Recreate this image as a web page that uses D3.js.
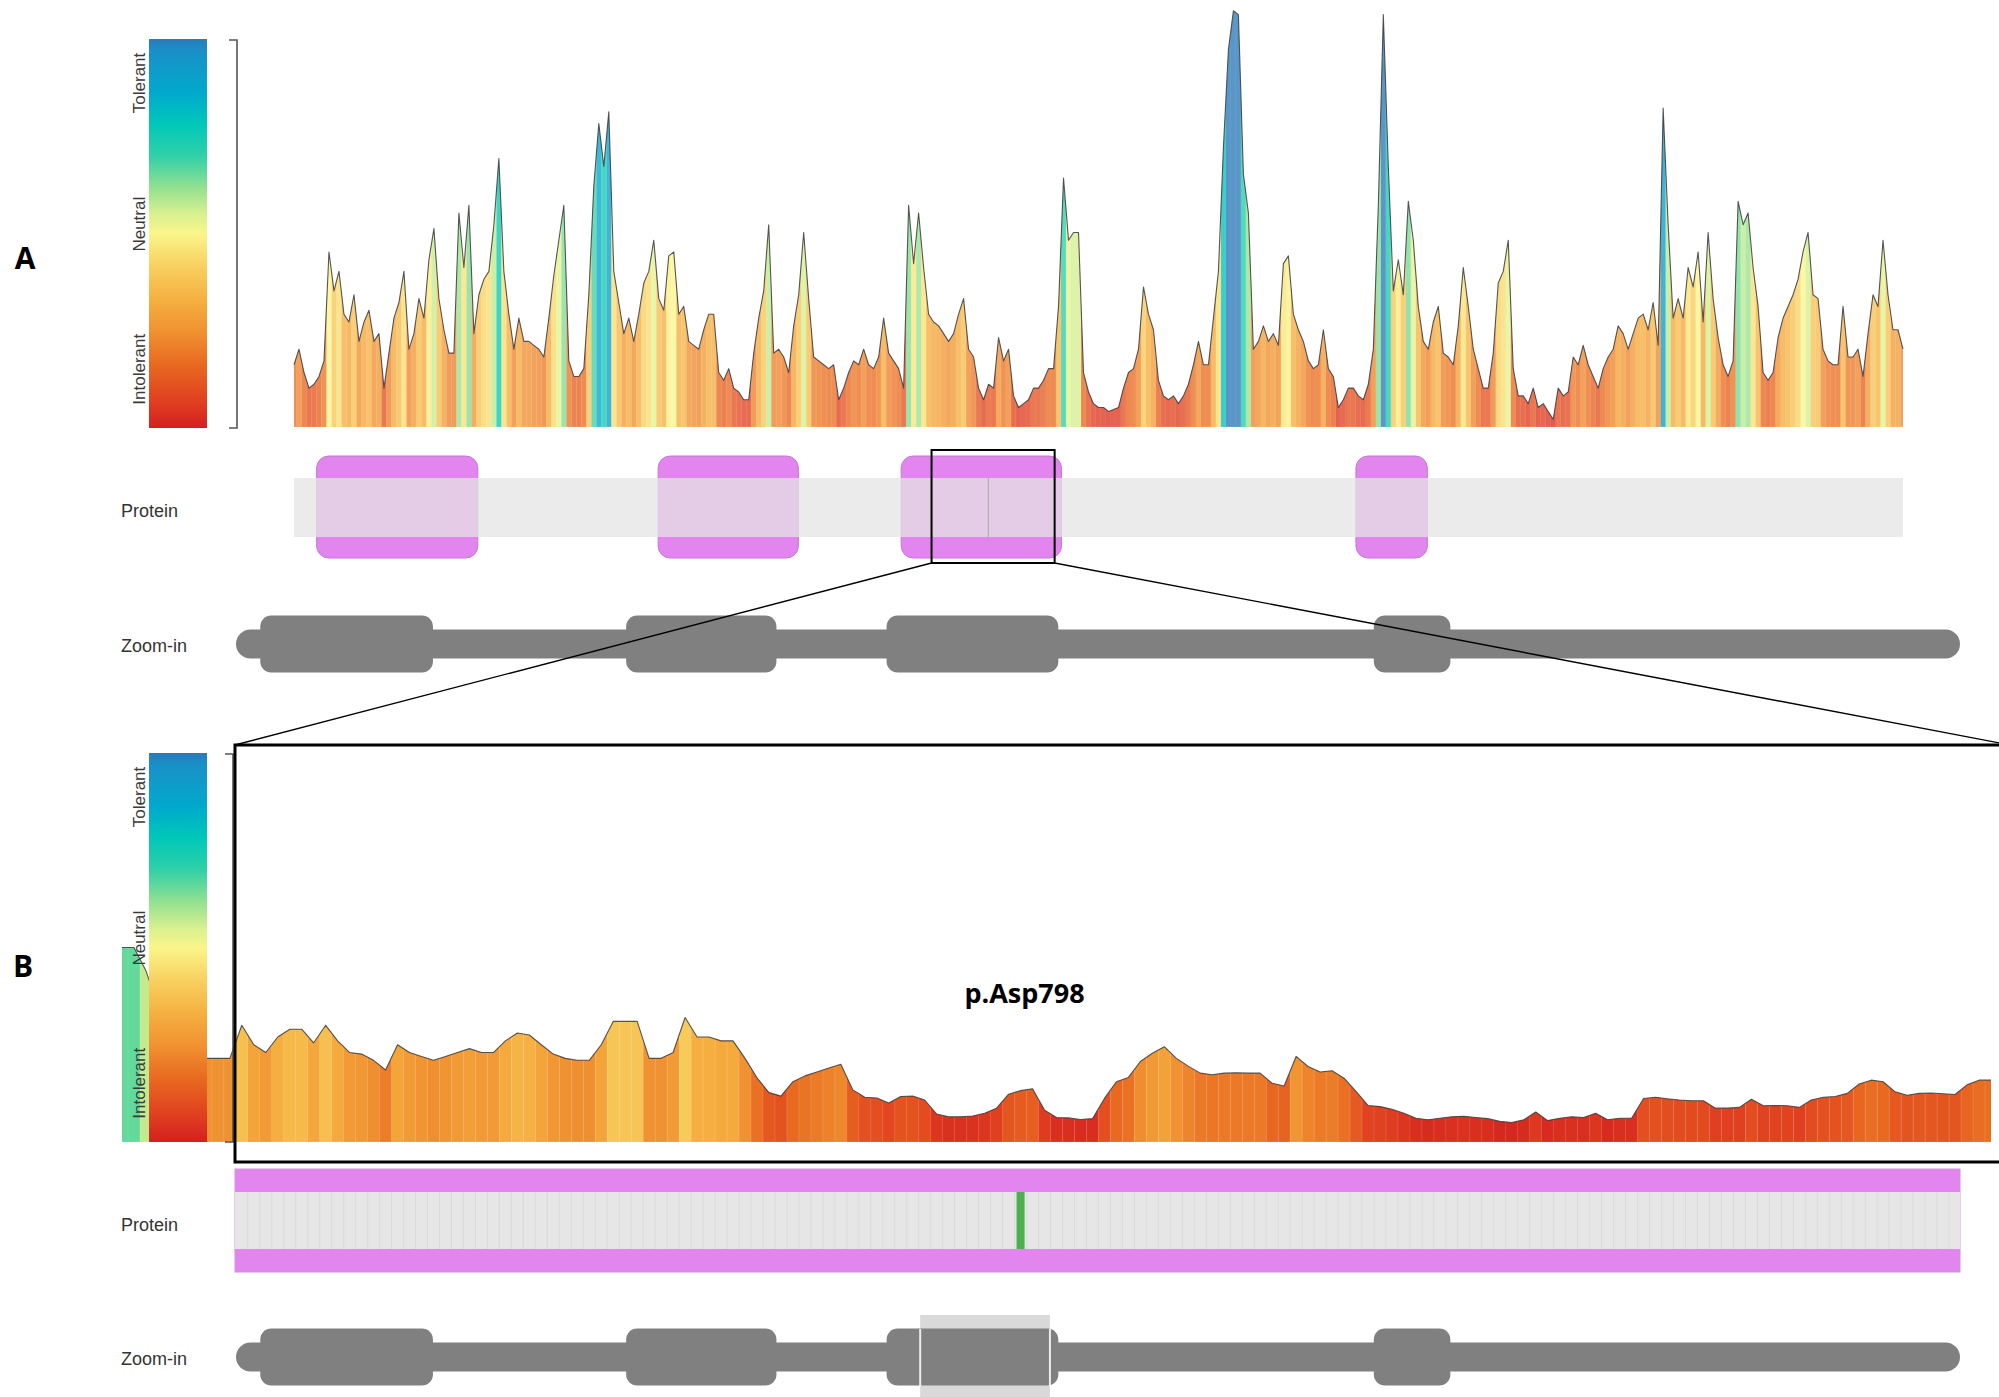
<!DOCTYPE html>
<html>
<head>
<meta charset="utf-8">
<script src="https://cdn.jsdelivr.net/npm/d3@7"></script>
<style>
  html, body { margin: 0; padding: 0; background: #fff; }
  svg { display: block; }
</style>
</head>
<body>
<svg id="fig" width="1999" height="1397"></svg>
<script>
// ---------------------------------------------------------------------------
// Tolerance landscape of the protein (scores: 0 = intolerant, 1 = tolerant)
// ---------------------------------------------------------------------------
const proteinLength = 1848;

// whole-protein profile, evenly spaced samples from residue 1 to the C-terminus
const profileScores = [
  0.16,0.20,0.14,0.10,0.11,0.13,0.17,0.45,0.35,0.40,
  0.29,0.27,0.34,0.22,0.27,0.30,0.22,0.24,0.10,0.19,
  0.28,0.32,0.40,0.20,0.24,0.33,0.28,0.43,0.51,0.33,
  0.25,0.19,0.19,0.55,0.41,0.57,0.24,0.34,0.38,0.40,
  0.52,0.69,0.40,0.29,0.20,0.28,0.22,0.22,0.21,0.20,
  0.18,0.28,0.39,0.48,0.57,0.17,0.13,0.13,0.15,0.34,
  0.62,0.78,0.67,0.81,0.40,0.32,0.24,0.28,0.22,0.29,
  0.37,0.40,0.48,0.33,0.30,0.44,0.45,0.29,0.31,0.22,
  0.21,
  0.20,0.25,0.29,0.29,0.14,0.12,0.15,0.10,0.09,0.07,
  0.07,0.19,0.28,0.35,0.52,0.19,0.20,0.18,0.14,0.26,
  0.34,0.50,0.33,0.18,0.17,0.16,0.15,0.16,0.07,0.10,
  0.14,0.17,0.16,0.20,0.16,0.15,0.18,0.28,0.19,0.17,
  0.15,0.10,0.57,0.42,0.55,0.41,0.29,0.27,0.26,0.24,
  0.22,0.24,0.29,0.33,0.20,0.18,0.10,0.07,0.11,0.10,
  0.23,0.17,0.20,0.08,0.05,0.06,0.07,0.10,0.10,0.12,
  0.15,0.15,0.31,0.64,0.48,0.50,0.50,0.14,0.09,0.06,
  0.05,0.05,0.04,0.045,0.05,0.10,0.14,0.15,0.20,0.36,
  0.29,0.25,0.12,0.08,0.07,0.08,0.06,0.08,0.11,0.16,
  0.22,0.16,0.16,0.28,0.40,0.72,0.97,1.07,1.06,0.65,
  0.55,0.20,0.22,0.26,0.22,0.24,0.21,0.42,0.44,0.29,
  0.25,0.22,0.17,0.15,0.16,0.25,0.15,0.13,0.05,0.07,
  0.10,0.10,0.08,0.07,0.11,0.20,0.57,1.06,0.67,0.35,
  0.43,0.34,0.58,0.48,0.31,0.22,0.20,0.27,0.31,0.19,
  0.18,0.16,0.26,0.41,0.31,0.20,0.15,0.10,0.10,0.19,
  0.37,
  0.40,0.48,0.15,0.08,0.08,0.06,0.10,0.05,0.06,0.04,
  0.02,0.10,0.08,0.09,0.18,0.16,0.21,0.16,0.13,0.10,
  0.15,0.18,0.20,0.26,0.24,0.20,0.24,0.28,0.29,0.25,
  0.32,0.21,0.82,0.52,0.28,0.33,0.28,0.41,0.36,0.45,
  0.27,0.50,0.33,0.23,0.16,0.13,0.17,0.58,0.52,0.55,
  0.41,0.31,0.14,0.12,0.14,0.23,0.28,0.31,0.34,0.38,
  0.45,0.50,0.34,0.33,0.20,0.17,0.16,0.16,0.31,0.18,
  0.18,0.20,0.13,0.24,0.34,0.31,0.48,0.34,0.25,0.25,
  0.20
];

// zoomed region, one score per residue starting at zoomFirstResidue
const zoomFirstResidue = 723;
const zoomScores = [
  0.50,0.50,0.44,0.35,0.28,0.24,0.22,0.215,0.215,0.215,
  0.30,0.25,0.23,0.27,0.29,0.29,0.255,0.30,0.26,0.23,
  0.226,0.21,0.185,0.25,0.23,0.22,0.21,0.22,0.23,0.24,
  0.23,0.23,0.26,0.28,0.275,0.25,0.226,0.215,0.21,0.21,
  0.25,0.31,0.31,0.31,0.215,0.215,0.23,0.32,0.27,0.27,
  0.26,0.26,0.215,0.165,0.127,0.118,0.155,0.17,0.18,0.19,
  0.20,0.134,0.115,0.113,0.10,0.117,0.118,0.108,0.072,0.065,
  0.065,0.067,0.074,0.087,0.123,0.132,0.137,0.082,0.063,0.062,
  0.058,0.06,0.112,0.155,0.166,0.207,0.228,0.245,0.215,0.195,
  0.177,0.173,0.177,0.178,0.177,0.177,0.151,0.144,0.22,0.194,
  0.18,0.183,0.164,0.13,0.094,0.091,0.084,0.074,0.061,0.057,
  0.061,0.065,0.066,0.063,0.06,0.053,0.05,0.057,0.077,0.055,
  0.061,0.065,0.063,0.074,0.057,0.061,0.061,0.112,0.115,0.111,
  0.108,0.106,0.106,0.087,0.087,0.089,0.11,0.093,0.094,0.093,
  0.089,0.108,0.115,0.117,0.125,0.149,0.159,0.155,0.129,0.12,
  0.125,0.126,0.124,0.122,0.147,0.159,0.159
];

const zoomWindow = [734, 873];          // residues shown in panel B
const variantResidue = 798;
const variantLabel = "p.Asp798";

// protein domains (residue ranges)
const domainStarts = [27, 419, 698, 1220];
const domainEnds   = [212, 580, 882, 1302];

const legendLabels = ["Tolerant", "Neutral", "Intolerant"];
const legendLevels = [0.887, 0.524, 0.151];   // where each word sits on the colour bar
const trackLabels  = ["Protein", "Zoom-in"];
const panelLabels  = ["A", "B"];

// colour ramp: intolerant (red) -> neutral (yellow) -> tolerant (blue)
const rampStops  = [0, 0.07, 0.16, 0.245, 0.33, 0.415, 0.5, 0.55, 0.62, 0.70, 0.78, 0.86, 0.97, 1];
const rampColors = ["#d42020","#e04020","#e86820","#f09030","#f5b040","#f8d060","#faf58a",
                    "#d8f090","#90e090","#30d0a8","#00c8b8","#00aacc","#1a90c8","#2a7ab8"];
// score range spanned by the ramp in the overview and in the zoomed view
const rampRangeOverview = [0, 0.9];
const rampRangeZoom = [0.04, 0.74];

// ---------------------------------------------------------------------------
const svg = d3.select("#fig");
const defs = svg.append("defs");
svg.append("rect").attr("width", 1999).attr("height", 1397).attr("fill", "#fff");

const ramp = d3.scaleLinear().domain(rampStops).range(rampColors).clamp(true);

const grad = defs.append("linearGradient").attr("id", "tolGrad")
  .attr("x1", 0).attr("y1", 1).attr("x2", 0).attr("y2", 0);
grad.selectAll("stop").data(rampStops).join("stop")
  .attr("offset", d => d).attr("stop-color", (d, i) => rampColors[i]);

const FONT = "'Liberation Sans', Arial, sans-serif";
const BOLD_FONT = "'Open Sans', 'Liberation Sans', sans-serif";

// ---------------------------------------------------------------------------
// landscape plot: per-residue coloured stripes clipped by the score area
function landscape(g, data, x, y, id, opacity, rampRange) {
  const toRamp = d3.scaleLinear().domain(rampRange).range([0, 1]).clamp(true);
  const area = d3.area().x(d => x(d.res)).y0(y(0)).y1(d => y(d.v));
  defs.append("clipPath").attr("id", id).append("path").attr("d", area(data));
  const step = x(data[1].res) - x(data[0].res);
  g.append("g").attr("clip-path", `url(#${id})`)
    .selectAll("rect").data(data).join("rect")
    .attr("x", d => x(d.res) - step / 2)
    .attr("width", step + 0.4)
    .attr("y", y.range()[1] - 40)
    .attr("height", y(0) - y.range()[1] + 40)
    .attr("fill", d => ramp(toRamp(d.v)))
    .attr("fill-opacity", opacity)
    .attr("stroke", "#fff").attr("stroke-opacity", 0.22).attr("stroke-width", 0.6);
  g.append("path")
    .attr("d", d3.line().x(d => x(d.res)).y(d => y(d.v))(data))
    .attr("fill", "none").attr("stroke", "#3a3a3a").attr("stroke-width", 1.1)
    .attr("stroke-opacity", 0.85).attr("stroke-linejoin", "round");
}

function colorBar(top, bottom) {
  const g = svg.append("g");
  g.append("rect").attr("x", 149).attr("y", top).attr("width", 58)
    .attr("height", bottom - top).attr("fill", "url(#tolGrad)");
  const ly = d3.scaleLinear().domain([0, 1]).range([bottom, top]);
  legendLabels.forEach((t, i) => {
    g.append("text")
      .attr("transform", `translate(145,${ly(legendLevels[i])}) rotate(-90)`)
      .attr("text-anchor", "middle").attr("font-family", FONT).attr("font-size", 17)
      .attr("fill", "#3a3a3a").text(t);
  });
  return g;
}

function bracket(x, top, bottom) {
  svg.append("path")
    .attr("d", `M${x - 8},${top}H${x}V${bottom}H${x - 8}`)
    .attr("fill", "none").attr("stroke", "#555").attr("stroke-width", 1.6);
}

function zoomTrack(xT, cy) {
  const g = svg.append("g").attr("fill", "#808080");
  g.append("rect").attr("x", xT(1)).attr("y", cy - 14.5)
    .attr("width", xT(proteinLength) - xT(1)).attr("height", 29).attr("rx", 14.5);
  g.selectAll("rect.blk").data(domainStarts).join("rect").attr("class", "blk")
    .attr("x", (d) => xT(d)).attr("y", cy - 28.5)
    .attr("width", (d, i) => xT(domainEnds[i]) - xT(d)).attr("height", 57).attr("rx", 11);
  return g;
}

function label(text, x, y) {
  svg.append("text").attr("x", x).attr("y", y).attr("font-family", FONT)
    .attr("font-size", 18).attr("fill", "#333").text(text);
}

// ---------------------------------------------------------------------------
// Panel A
const xA = d3.scaleLinear().domain([1, proteinLength]).range([294, 1903]);
const yA = d3.scaleLinear().domain([0, 1]).range([427, 38]);
const profile = profileScores.map((v, i) => ({
  res: 1 + i * (proteinLength - 1) / (profileScores.length - 1), v }));
landscape(svg.append("g"), profile, xA, yA, "clipA", 0.78, rampRangeOverview);

colorBar(39, 428);
bracket(237, 40, 428);

// protein track (overview)
const protA = svg.append("g");
protA.selectAll("rect.dom").data(domainStarts).join("rect").attr("class", "dom")
  .attr("x", d => xA(d)).attr("y", 456)
  .attr("width", (d, i) => xA(domainEnds[i]) - xA(d)).attr("height", 102).attr("rx", 12)
  .attr("fill", "#e285ef").attr("stroke", "#c47ad2").attr("stroke-width", 1);
protA.append("rect").attr("x", xA(1)).attr("y", 478)
  .attr("width", xA(proteinLength) - xA(1)).attr("height", 59)
  .attr("fill", "#e4e4e4").attr("fill-opacity", 0.75);
protA.append("line").attr("x1", xA(variantResidue)).attr("x2", xA(variantResidue))
  .attr("y1", 478).attr("y2", 537).attr("stroke", "#a8a8a8").attr("stroke-width", 1);

// selection frame around the zoomed window
const selX0 = xA(zoomWindow[0]) - 1, selX1 = xA(zoomWindow[1]) + 1;
svg.append("rect").attr("x", selX0).attr("y", 450).attr("width", selX1 - selX0)
  .attr("height", 113).attr("fill", "none").attr("stroke", "#000").attr("stroke-width", 2);

const xT = d3.scaleLinear().domain([1, proteinLength]).range([236, 1960]);
zoomTrack(xT, 644);

label(trackLabels[0], 121, 517);
label(trackLabels[1], 121, 652);

// ---------------------------------------------------------------------------
// Panel B
const xB = d3.scaleLinear()
  .domain([zoomFirstResidue, zoomFirstResidue + zoomScores.length - 1]).range([122, 1991]);
const yB = d3.scaleLinear().domain([0, 1]).range([1142, 753]);
const zoomData = zoomScores.map((v, i) => ({ res: zoomFirstResidue + i, v }));
landscape(svg.append("g"), zoomData, xB, yB, "clipB", 1, rampRangeZoom);

bracket(233, 754, 1142);
colorBar(753, 1142);

// connector lines from the selection to the zoomed panel
svg.append("line").attr("x1", selX0).attr("y1", 563).attr("x2", 235).attr("y2", 745)
  .attr("stroke", "#000").attr("stroke-width", 1.4);
svg.append("line").attr("x1", selX1).attr("y1", 563).attr("x2", 2010).attr("y2", 745)
  .attr("stroke", "#000").attr("stroke-width", 1.4);
svg.append("rect").attr("x", 235).attr("y", 745).attr("width", 1790).attr("height", 417)
  .attr("fill", "none").attr("stroke", "#000").attr("stroke-width", 3);

svg.append("text").attr("x", xB(variantResidue) + 4).attr("y", 1003)
  .attr("text-anchor", "middle").attr("font-family", BOLD_FONT).attr("font-weight", 700)
  .attr("font-size", 27).attr("fill", "#000").text(variantLabel);

// protein track (zoomed)
const protB = svg.append("g");
protB.append("rect").attr("x", 235).attr("y", 1169).attr("width", 1725).attr("height", 103)
  .attr("fill", "#e285ef").attr("stroke", "#cf95d8").attr("stroke-width", 1);
protB.append("rect").attr("x", 235).attr("y", 1192).attr("width", 1725).attr("height", 57)
  .attr("fill", "#e6e6e6");
protB.selectAll("line").data(d3.range(zoomFirstResidue, zoomFirstResidue + zoomScores.length))
  .join("line")
  .attr("x1", d => xB(d) + 6).attr("x2", d => xB(d) + 6)
  .attr("y1", 1192).attr("y2", 1249)
  .attr("stroke", "#d6d6d6").attr("stroke-width", 0.7)
  .attr("display", d => (xB(d) + 6 > 236 && xB(d) + 6 < 1959) ? null : "none");
protB.append("rect").attr("x", xB(variantResidue) - 4).attr("y", 1192)
  .attr("width", 8).attr("height", 57).attr("fill", "#4caf50");

// zoom-in track with the highlighted window
svg.append("rect").attr("x", xT(zoomWindow[0])).attr("y", 1315)
  .attr("width", xT(zoomWindow[1]) - xT(zoomWindow[0])).attr("height", 90)
  .attr("fill", "#d9d9d9");
zoomTrack(xT, 1357);
[zoomWindow[0], zoomWindow[1]].forEach(r => {
  svg.append("line").attr("x1", xT(r)).attr("x2", xT(r)).attr("y1", 1329).attr("y2", 1386)
    .attr("stroke", "#fff").attr("stroke-opacity", 0.85).attr("stroke-width", 2);
});

label(trackLabels[0], 121, 1231);
label(trackLabels[1], 121, 1365);

// panel letters
svg.append("text").attr("x", 25).attr("y", 269).attr("text-anchor", "middle")
  .attr("font-family", BOLD_FONT).attr("font-weight", 700).attr("font-size", 30)
  .text(panelLabels[0]);
svg.append("text").attr("x", 23).attr("y", 977).attr("text-anchor", "middle")
  .attr("font-family", BOLD_FONT).attr("font-weight", 700).attr("font-size", 30)
  .text(panelLabels[1]);
</script>
</body>
</html>
